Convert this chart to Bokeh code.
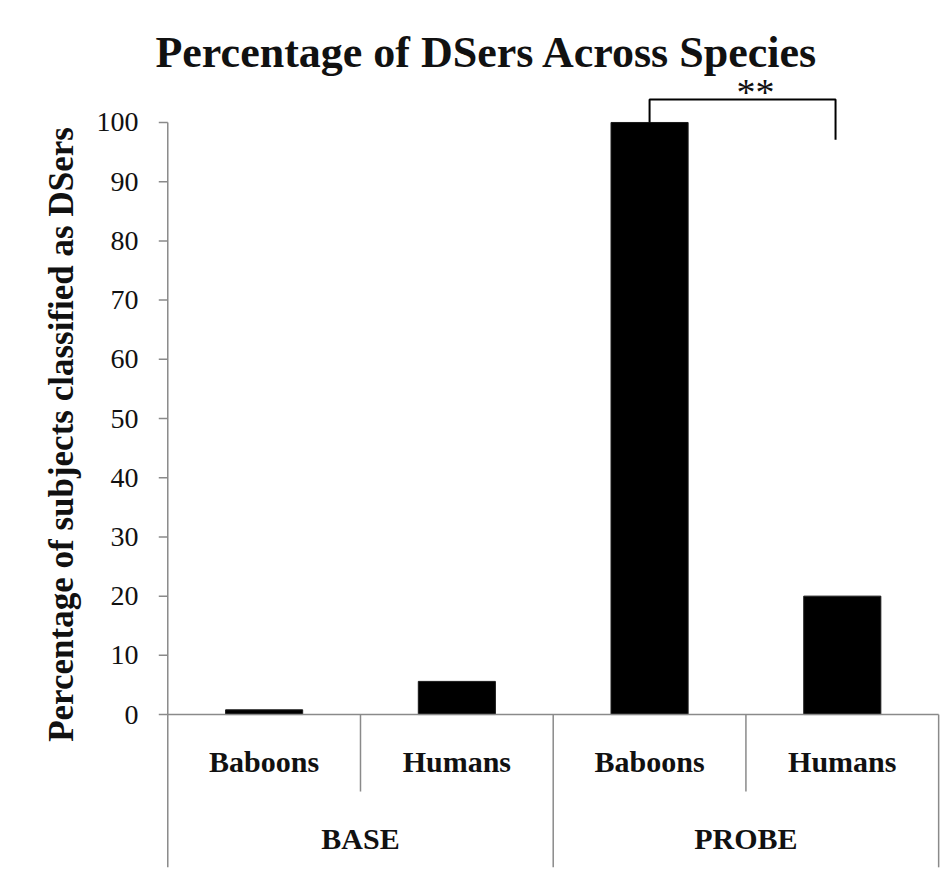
from bokeh.plotting import figure
from bokeh.models import Range1d, FixedTicker, ColumnDataSource, Label
from bokeh.core.properties import value
from bokeh.embed import file_html
from bokeh.resources import INLINE

# ---- data ----
groups = ["BASE", "BASE", "PROBE", "PROBE"]
species = ["Baboons", "Humans", "Baboons", "Humans"]
percent = [0.8, 5.6, 100, 20]
group_names = ["BASE", "PROBE"]
y_ticks = [0, 10, 20, 30, 40, 50, 60, 70, 80, 90, 100]
title_text = "Percentage of  DSers Across Species"
y_label = "Percentage of subjects classified as DSers"
sig_label = "**"
sig_pair = (2, 3)   # PROBE Baboons vs PROBE Humans

SERIF = "Liberation Serif"
GREY = "#8a8a8a"
INK = "#111111"

# category slots: each category occupies one unit on the x scale
n = len(species)
xc = [i + 0.5 for i in range(n)]
group_x = [sum(xc[i] for i in range(n) if groups[i] == g) /
           sum(1 for i in range(n) if groups[i] == g) for g in group_names]

x_range = Range1d(-0.1, n + 0.02)
y_range = Range1d(-26.0, 120.6)

p = figure(x_range=x_range, y_range=y_range, width=942, height=868,
           output_backend="svg", toolbar_location=None, x_axis_location=None,
           min_border_left=148, min_border_right=0, min_border_top=0,
           min_border_bottom=0)
p.outline_line_color = None
p.xgrid.visible = False
p.ygrid.visible = False
p.background_fill_color = "white"
p.border_fill_color = "white"

# y axis: labels from the axis, the rule and ticks drawn at the slot edge x=0
ax = p.yaxis[0]
ax.ticker = FixedTicker(ticks=y_ticks)
ax.axis_line_color = None
ax.major_tick_line_color = None
ax.major_tick_out = 0
ax.major_tick_in = 0
ax.minor_tick_line_color = None
ax.major_label_text_font = SERIF
ax.major_label_text_font_size = "28px"
ax.major_label_text_color = INK
ax.major_label_standoff = 10
ax.axis_label = y_label
ax.axis_label_text_font = SERIF
ax.axis_label_text_font_style = "bold"
ax.axis_label_text_font_size = "35px"
ax.axis_label_text_color = INK
ax.axis_label_standoff = 13

tick_len = 9 / 192.8  # 9 px in x units
p.segment(x0=[0], y0=[y_ticks[0]], x1=[0], y1=[y_ticks[-1]],
          line_color=GREY, line_width=1.5)
p.segment(x0=[-tick_len] * len(y_ticks), y0=y_ticks, x1=[0] * len(y_ticks),
          y1=y_ticks, line_color=GREY, line_width=1.5)

# bars
src = ColumnDataSource(dict(x=xc, top=percent, species=species, group=groups))
p.vbar(x="x", top="top", bottom=0, width=0.4, source=src,
       fill_color="black", line_color="#1a1a1a", line_width=1)

# category table lines
p.segment(x0=[0], y0=[0], x1=[n], y1=[0], line_color=GREY, line_width=1.5)
v_x, v_bottom = [0], [-25.8]
for i in range(n):
    last_in_group = (i == n - 1) or (groups[i + 1] != groups[i])
    v_x.append(i + 1)
    v_bottom.append(-25.8 if last_in_group else -13.0)
p.segment(x0=v_x, y0=[0] * len(v_x), x1=v_x, y1=v_bottom,
          line_color=GREY, line_width=1.5)

# category labels
p.text(x=xc, y=[-8.0] * n, text=species,
       text_font=value(SERIF), text_font_style="bold", text_font_size="30px",
       text_color=INK, text_align="center", text_baseline="alphabetic")
p.text(x=group_x, y=[-21.0] * len(group_names), text=group_names,
       text_font=value(SERIF), text_font_style="bold", text_font_size="30px",
       text_color=INK, text_align="center", text_baseline="alphabetic")

# title
title = Label(x=1.685, y=111.9, text=title_text,
              text_font=SERIF, text_font_style="bold", text_font_size="44px",
              text_color=INK, text_align="center", text_baseline="alphabetic")
p.add_layout(title)

# significance bracket
a, b = sig_pair
p.line(x=[xc[a], xc[a], xc[b] - 0.035, xc[b] - 0.035],
       y=[percent[a], 103.9, 103.9, 97.1], line_color="black", line_width=2)
p.text(x=[xc[a] + 0.55], y=[105.1], text=[sig_label],
       text_font=value(SERIF), text_font_size="38px", text_color=INK,
       text_align="center", text_baseline="alphabetic")

open("out.html", "w").write(file_html(p, INLINE))
